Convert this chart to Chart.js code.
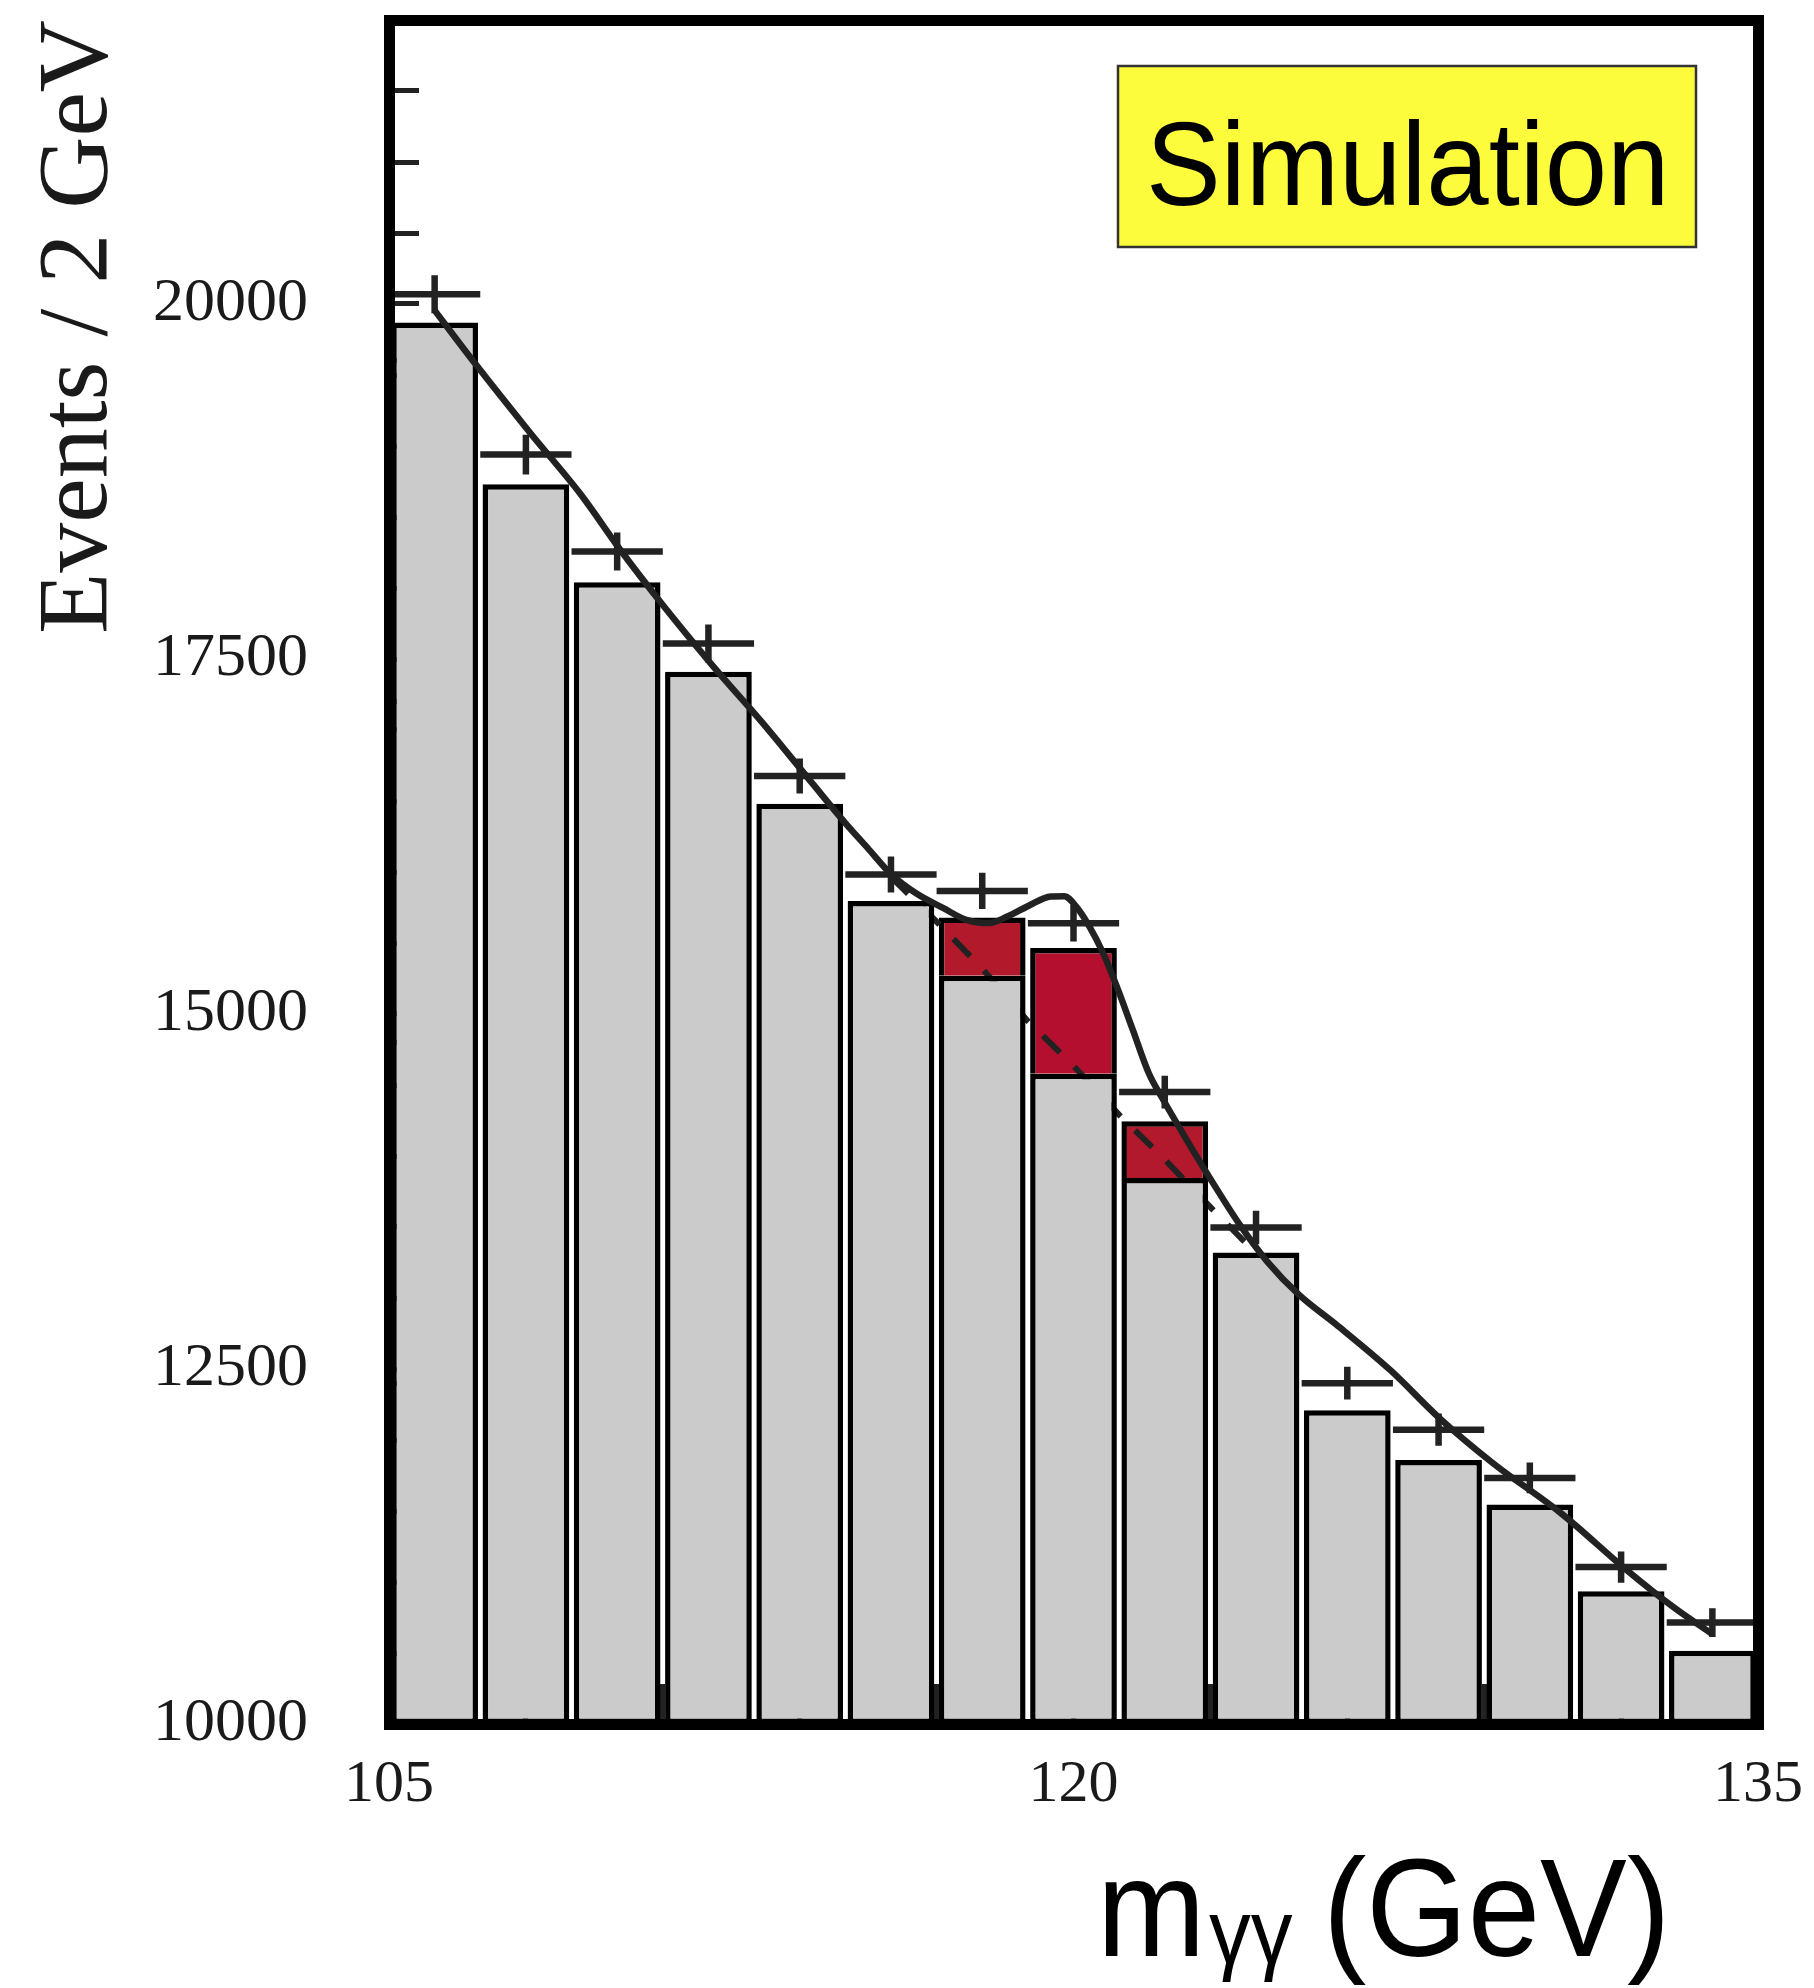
<!DOCTYPE html>
<html>
<head>
<meta charset="utf-8">
<script src="https://cdn.jsdelivr.net/npm/chart.js@4.4.1/dist/chart.umd.min.js"></script>
<style>
  html, body { margin: 0; padding: 0; background: #ffffff; }
  #wrap { width: 1814px; height: 1988px; position: relative; }
</style>
</head>
<body>
<div id="wrap"><canvas id="c"></canvas></div>
<script>
// ---------------- data ----------------
const binCenters   = [106, 108, 110, 112, 114, 116, 118, 120, 122, 124, 126, 128, 130, 132, 134];
const binHalfWidth = 1; // 2 GeV bins
const background   = [19870, 18730, 18040, 17410, 16480, 15795, 15270, 14580, 13845, 13320, 12210, 11860, 11545, 10935, 10515];
const signalBins   = [118, 120, 122];
const signalTop    = [15680, 15465, 14245];
const dataValues   = [20068, 18940, 18257, 17609, 16676, 15982, 15867, 15639, 14450, 13496, 12400, 12073, 11733, 11105, 10714];
const dataErrors   = [134, 140, 134, 134, 124, 127, 128, 129, 115, 118, 115, 114, 108, 110, 101];
const fitX = [106, 106.9, 108.1, 109.2, 110.1, 111.0, 112.1, 113.2, 114.3, 115.0, 115.5, 116.0, 116.55, 117.15, 117.65, 118.15, 118.55, 119.05, 119.5, 119.8, 120.05, 120.35, 120.65, 120.95, 121.3, 121.65, 121.95, 122.45, 122.95, 123.65, 124.25, 124.95, 125.75, 126.95, 128.0, 129.2, 130.7, 132.1, 133.2, 134.0];
const fitY = [19955, 19575, 19090, 18660, 18255, 17880, 17450, 17045, 16615, 16345, 16165, 15985, 15850, 15745, 15663, 15640, 15686, 15768, 15827, 15830, 15760, 15616, 15428, 15193, 14888, 14583, 14405, 14130, 13865, 13513, 13255, 13020, 12815, 12490, 12160, 11835, 11480, 11090, 10810, 10633];
const bkgX = [116, 117, 118, 119, 120, 121, 122, 123, 124.2];
const bkgY = [15965, 15650, 15320, 14950, 14635, 14290, 13975, 13640, 13250];
const xTickLabels = [105, 120, 135];
const yTickLabels = [10000, 12500, 15000, 17500, 20000];
const xRange = [105, 135];
const yRange = [10000, 22000];

// ---------------- build library structures ----------------
const hErr = [], vErr = [];
binCenters.forEach((c, i) => {
  hErr.push({x: c - binHalfWidth, y: dataValues[i]}, {x: c + binHalfWidth, y: dataValues[i]}, {x: c + binHalfWidth, y: null});
  vErr.push({x: c, y: dataValues[i] - dataErrors[i]}, {x: c, y: dataValues[i] + dataErrors[i]}, {x: c, y: null});
});
const fitData = fitX.map((x, i) => ({x, y: fitY[i]}));
const bkgData = bkgX.map((x, i) => ({x, y: bkgY[i]}));
const bkgBars = binCenters.map((c, i) => ({x: c, y: [yRange[0], background[i]]}));
const sigBars = signalBins.map((c, i) => ({x: c, y: [background[binCenters.indexOf(c)], signalTop[i]]}));

const SERIF = "'Liberation Serif', 'Times New Roman', serif";
const SANS = "'Liberation Sans', Arial, sans-serif";
const INK = '#1a1a1a';
const zeroPad = s => { s.paddingLeft = 0; s.paddingRight = 0; s.paddingTop = 0; s.paddingBottom = 0; };

const overlay = {
  id: 'overlay',
  afterDraw(chart) {
    const ctx = chart.ctx;
    // "Simulation" label box
    ctx.save();
    ctx.fillStyle = '#fcfc3c';
    ctx.fillRect(1118, 66, 578, 181);
    ctx.lineWidth = 2.5;
    ctx.strokeStyle = '#333333';
    ctx.strokeRect(1118, 66, 578, 181);
    ctx.fillStyle = '#000000';
    ctx.textBaseline = 'alphabetic';
    ctx.textAlign = 'left';
    ctx.font = '118px ' + SANS;
    ctx.translate(1146, 205);
    ctx.scale(0.95, 1);
    ctx.fillText('Simulation', 0, 0);
    ctx.restore();

    // x-axis title with subscript
    const piece = (txt, x, y, size) => {
      ctx.save();
      ctx.fillStyle = '#000000';
      ctx.textBaseline = 'alphabetic';
      ctx.textAlign = 'left';
      ctx.font = size + 'px ' + SANS;
      ctx.translate(x, y);
      ctx.scale(0.93, 1);
      ctx.fillText(txt, 0, 0);
      ctx.restore();
    };
    piece('m', 1097, 1956, 140);
    piece('\u03B3\u03B3', 1209, 1963, 90);
    piece('(GeV)', 1323, 1956, 140);
  }
};

new Chart(document.getElementById('c'), {
  type: 'bar',
  data: {
    datasets: [
      { type: 'line', label: 'Data (x)', data: hErr, borderColor: '#222222', borderWidth: 6.5,
        pointRadius: 0, spanGaps: false, fill: false, order: 0 },
      { type: 'line', label: 'Data (y)', data: vErr, borderColor: '#222222', borderWidth: 6.5,
        pointRadius: 0, spanGaps: false, fill: false, order: 0 },
      { type: 'line', label: 'Signal + background fit', data: fitData, borderColor: '#222222', borderWidth: 6.5,
        pointRadius: 0, fill: false, cubicInterpolationMode: 'monotone', order: 1 },
      { type: 'bar', label: 'Background', data: bkgBars, backgroundColor: '#cbcbcb', borderColor: '#000000',
        borderWidth: 5.5, borderSkipped: false, grouped: false, barPercentage: 0.95, categoryPercentage: 1, order: 2 },
      { type: 'line', label: 'Background fit', data: bkgData, borderColor: '#222222', borderWidth: 6,
        borderDash: [24, 20], pointRadius: 0, fill: false, order: 3 },
      { type: 'bar', label: 'Signal', data: sigBars, backgroundColor: ['#b21a2c', '#b40f2e', '#b3192c'],
        borderColor: '#000000', borderWidth: 5.5, borderSkipped: 'bottom', grouped: false,
        barPercentage: 0.95, categoryPercentage: 1, order: 4 }
    ]
  },
  options: {
    responsive: true,
    maintainAspectRatio: false,
    animation: false,
    events: [],
    layout: { padding: { top: 20, right: 56, bottom: 0, left: 0 } },
    plugins: { legend: { display: false }, tooltip: { enabled: false } },
    scales: {
      x: {
        type: 'linear', position: 'bottom', min: xRange[0], max: xRange[1], offset: false,
        ticks: {
          stepSize: 3, autoSkip: false, maxRotation: 0, minRotation: 0, padding: 65, color: INK,
          font: { family: SERIF, size: 60 },
          callback: v => xTickLabels.includes(v) ? String(v) : ''
        },
        grid: { display: true, offset: false, drawOnChartArea: false, drawTicks: true, tickLength: -40, tickWidth: 5,
                tickColor: '#222222', lineWidth: 11 },
        border: { display: true, width: 11, color: '#000000', z: 1 },
        afterFit: s => { s.height = 264; zeroPad(s); }
      },
      y: {
        type: 'linear', position: 'left', min: yRange[0], max: yRange[1],
        ticks: {
          stepSize: 500, autoSkip: false, padding: 111, color: INK,
          font: { family: SERIF, size: 62 },
          callback: v => yTickLabels.includes(v) ? String(v) : ''
        },
        grid: { display: true, drawOnChartArea: false, drawTicks: true, tickLength: -30, tickWidth: 5,
                tickColor: '#222222', lineWidth: 11 },
        border: { display: true, width: 11, color: '#000000', z: 1 },
        title: { display: true, text: 'Events / 2 GeV', align: 'end', color: INK,
                 font: { family: SERIF, size: 100 }, padding: { top: 20, bottom: 0 } },
        afterFit: s => { s.width = 389; zeroPad(s); }
      },
      yMajor: {
        type: 'linear', axis: 'y', position: { x: xRange[0] }, min: yRange[0], max: yRange[1],
        ticks: { display: false, stepSize: 2500 },
        grid: { display: true, drawOnChartArea: false, drawTicks: true, tickLength: -62, tickWidth: 5,
                tickColor: '#222222' },
        border: { display: false },
        afterFit: s => { s.width = 0; zeroPad(s); }
      },
      x2: {
        type: 'linear', axis: 'x', position: 'top', min: xRange[0], max: xRange[1], offset: false,
        ticks: { display: false },
        grid: { display: false, offset: false, drawTicks: false, lineWidth: 11 },
        border: { display: true, width: 11, color: '#000000', z: 1 },
        afterFit: s => { s.height = 0; zeroPad(s); }
      },
      y2: {
        type: 'linear', axis: 'y', position: 'right', min: yRange[0], max: yRange[1],
        ticks: { display: false },
        grid: { display: false, drawTicks: false, lineWidth: 11 },
        border: { display: true, width: 11, color: '#000000', z: 1 },
        afterFit: s => { s.width = 0; zeroPad(s); }
      }
    }
  },
  plugins: [overlay]
});
</script>
</body>
</html>
